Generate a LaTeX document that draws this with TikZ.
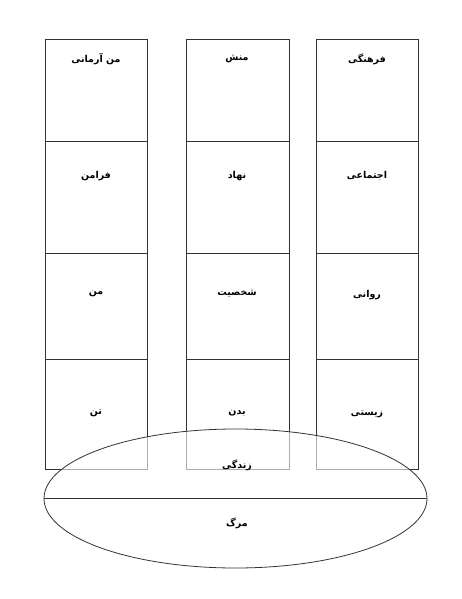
\documentclass[tikz,border=0pt]{standalone}
\usepackage{fontspec}
\usetikzlibrary{shapes.geometric}
\newfontfamily\arabicfont[Script=Arabic]{DejaVu Sans}
\TeXXeTstate=1
\begin{document}
\begin{tikzpicture}[x=1pt,y=-1pt,
  lbl/.style={font=\arabicfont\bfseries\fontsize{9.5}{11}\selectfont,inner sep=1pt},
  cellbox/.style={draw=black!80,line width=0.8pt},
  lifeoval/.style={draw=black!80,line width=0.8pt,fill=white,fill opacity=0.6,
    ellipse,minimum width=383pt,minimum height=139pt,inner sep=0pt}]
\useasboundingbox (0,0) rectangle (461,599);
% columns
\foreach \xl/\xr in {45/147,186/289,316/418}{
  \draw[cellbox] (\xl,39) rectangle (\xr,469);
  \draw[cellbox] (\xl,141) -- (\xr,141);
  \draw[cellbox] (\xl,253) -- (\xr,253);
  \draw[cellbox] (\xl,359) -- (\xr,359);
}
% ellipse with translucent fill
\node[lifeoval] (life) at (235.5,498.5) {};
\draw[cellbox] (life.west) -- (life.east);
% labels
\node[lbl] (a1) at (96,59) {\beginR من آرمانی\endR};
\node[lbl] (b1) at (237,59) {\beginR منش\endR};
\node[lbl] (c1) at (367,59) {\beginR فرهنگی\endR};
\node[lbl] (a2) at (96,176) {\beginR فرامن\endR};
\node[lbl] (b2) at (237,176) {\beginR نهاد\endR};
\node[lbl] (c2) at (367,176) {\beginR اجتماعی\endR};
\node[lbl] (a3) at (96,294) {\beginR من\endR};
\node[lbl] (b3) at (237,294) {\beginR شخصیت\endR};
\node[lbl] (c3) at (367,295) {\beginR روانی\endR};
\node[lbl] (a4) at (96,413) {\beginR تن\endR};
\node[lbl] (b4) at (237,413) {\beginR بدن\endR};
\node[lbl] (c4) at (367,414) {\beginR زیستی\endR};
\node[lbl] (z) at (237,465) {\beginR زندگی\endR};
\node[lbl] (m) at (237,523) {\beginR مرگ\endR};
\end{tikzpicture}
\end{document}
